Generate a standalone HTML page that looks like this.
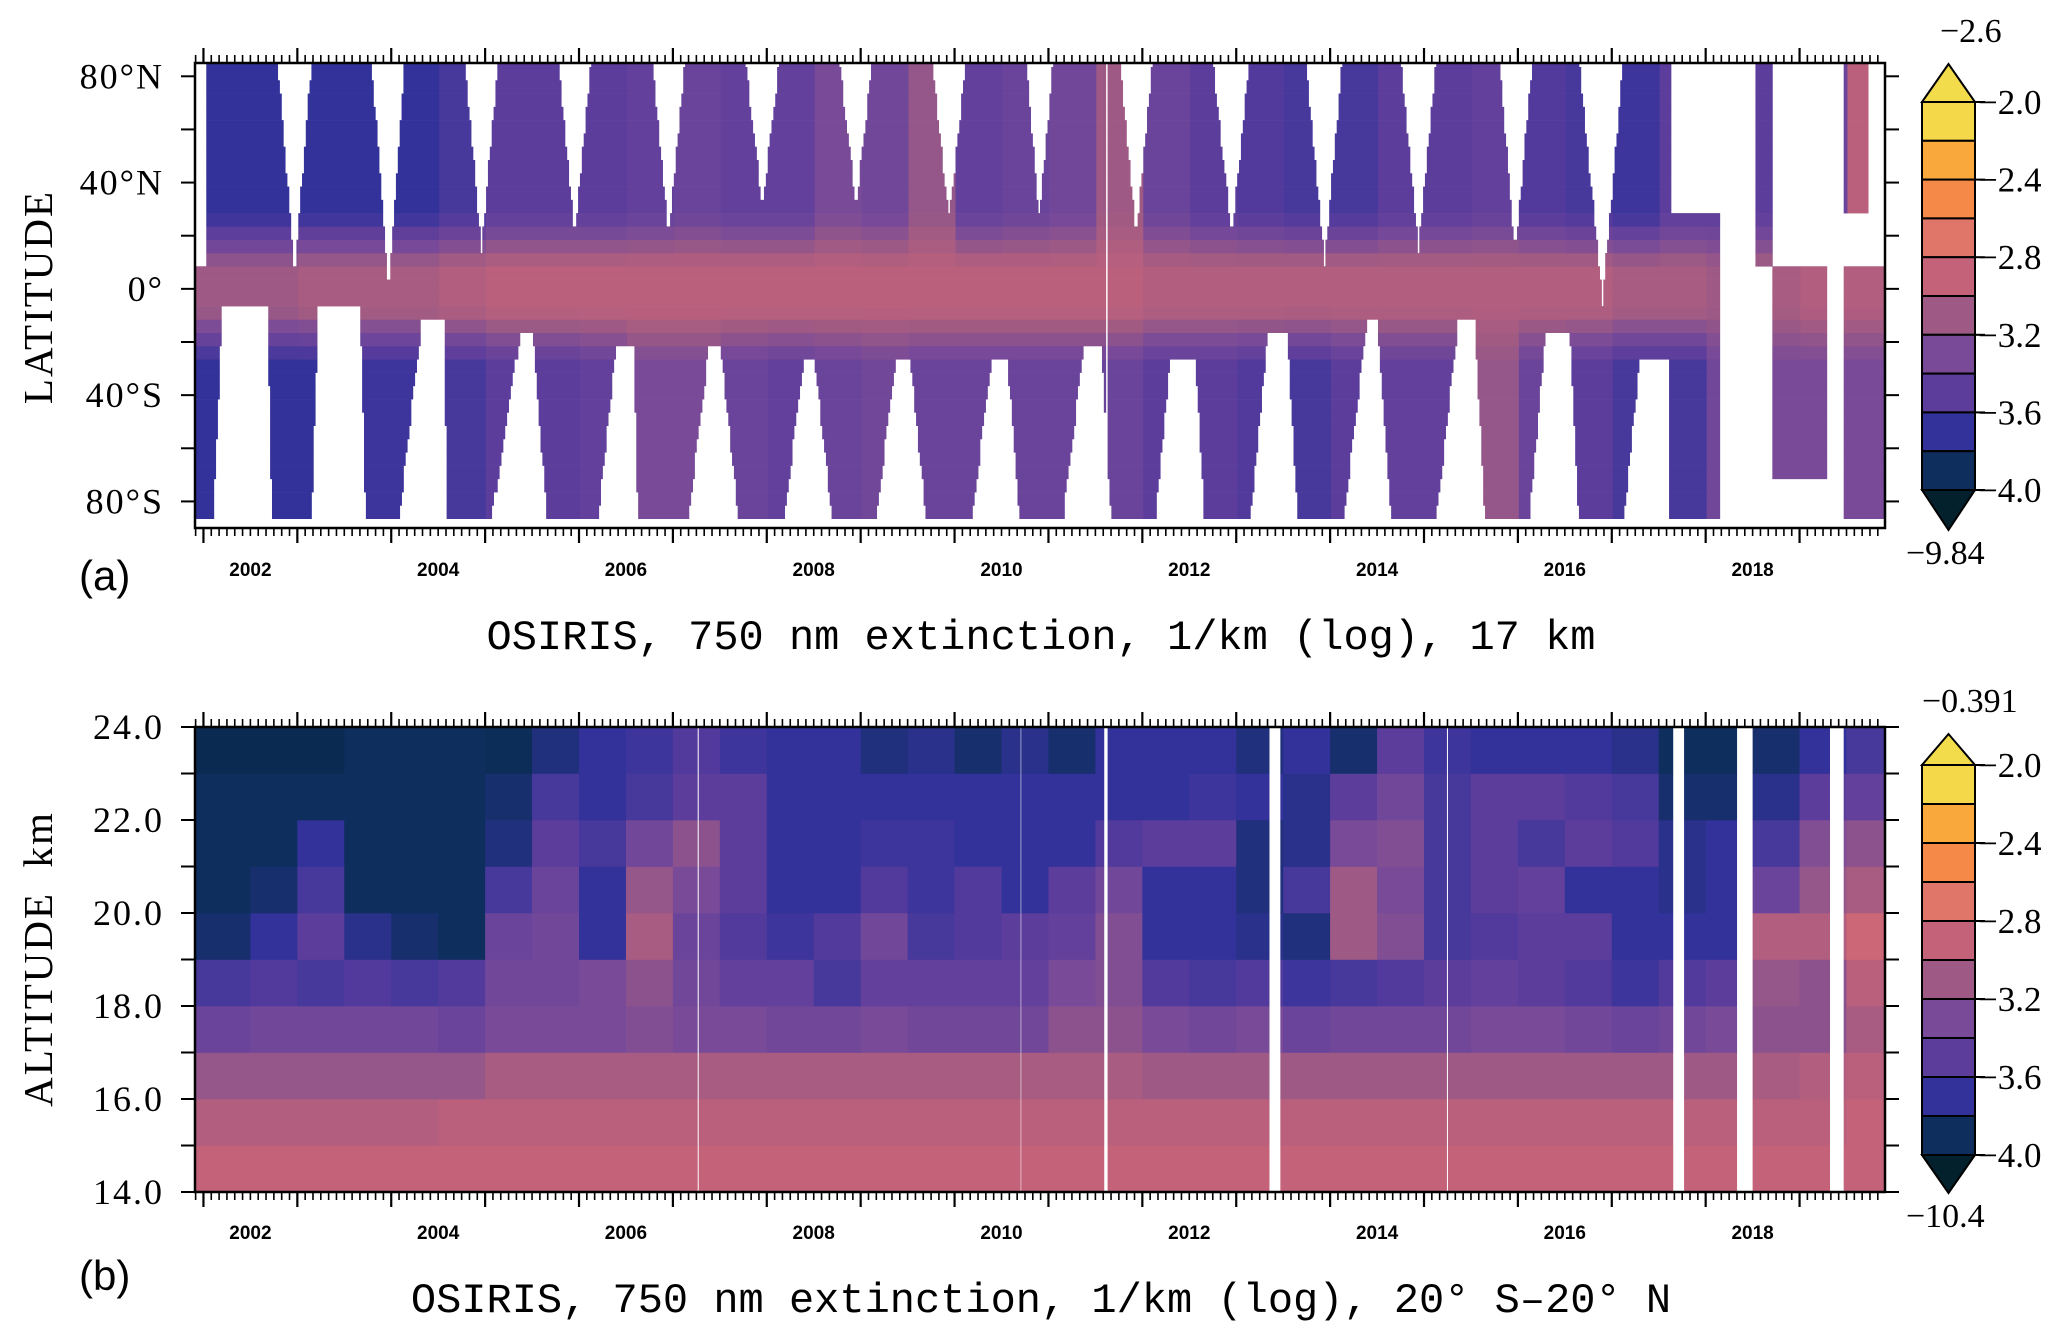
<!DOCTYPE html>
<html><head><meta charset="utf-8"><style>
html,body{margin:0;padding:0;background:#fff;}
svg{display:block;}
text{font-family:"Liberation Serif",serif;}
.mono{font-family:"Liberation Mono",monospace;}
.sans{font-family:"Liberation Sans",sans-serif;}
</style></head><body>
<svg id="fig" width="2067" height="1340" viewBox="0 0 2067 1340" xmlns="http://www.w3.org/2000/svg">
<rect x="0" y="0" width="2067" height="1340" fill="#fff"/>
<g id="pa"></g>
<g id="pb"></g>
<g id="axes"></g>
<text x="79" y="590" class="sans" font-size="42">(a)</text>
<text x="79" y="1290" class="sans" font-size="42">(b)</text>
<text x="1041" y="649" class="mono" font-size="42" text-anchor="middle">OSIRIS, 750 nm extinction, 1/km (log), 17 km</text>
<text x="1041" y="1312" class="mono" font-size="42" text-anchor="middle">OSIRIS, 750 nm extinction, 1/km (log), 20° S–20° N</text>
<text transform="translate(52,297) rotate(-90)" font-size="41" letter-spacing="2" text-anchor="middle">LATITUDE</text>
<text transform="translate(52,959) rotate(-90)" font-size="41" letter-spacing="2" text-anchor="middle">ALTITUDE&#160;&#160;km</text>
</svg>
<script>
// ---------- data ----------
const binStart = 2001.5;
const northLvl = [-3.7,-3.7,-3.7,-3.7,-3.7,-3.7,-3.6,-3.5,-3.5,-3.5,-3.45,-3.4,-3.45,-3.45,-3.3,-3.35,-3.15,-3.45,-3.4,-3.35,-3.1,-3.4,-3.5,-3.55,-3.6,-3.6,-3.5,-3.5,-3.45,-3.55,-3.6,-3.65,-3.5,-3.5,-3.5,-3.4,-2.95];
const tropLvl = [-3.1,-3.1,-3.1,-3.05,-3.05,-3.05,-3.0,-2.95,-2.95,-2.95,-2.95,-2.95,-2.95,-2.95,-2.95,-2.95,-2.95,-2.95,-2.95,-2.95,-2.95,-3.0,-3.0,-3.0,-3.0,-3.0,-3.0,-3.0,-3.0,-3.0,-3.0,-3.05,-3.05,-3.1,-3.05,-3.0,-3.0];
const southLvl = [-3.7,-3.7,-3.7,-3.7,-3.65,-3.65,-3.6,-3.5,-3.5,-3.45,-3.3,-3.3,-3.4,-3.45,-3.4,-3.35,-3.4,-3.4,-3.4,-3.4,-3.4,-3.5,-3.5,-3.55,-3.6,-3.5,-3.45,-3.45,-3.15,-3.4,-3.5,-3.6,-3.6,-3.35,-3.3,-3.3,-3.3];
const northGaps = [[2002.79,2003.15,2002.97,5],[2003.79,2004.14,2003.97,0],[2004.78,2005.14,2004.96,15],[2005.78,2006.13,2005.95,20],[2006.78,2007.13,2006.95,20],[2007.77,2008.13,2007.95,31],[2008.77,2009.12,2008.95,31],[2009.76,2010.12,2009.94,26],[2010.76,2011.05,2010.9,26],[2011.76,2012.11,2011.93,20],[2012.75,2013.14,2012.95,20],[2013.74,2014.13,2013.94,10],[2014.75,2015.13,2014.94,15],[2015.8,2016.15,2015.97,13],[2016.65,2017.12,2016.9,-5]];
const southGaps = [[2002.1,2002.73,2002.2,2002.68,-5],[2003.15,2003.73,2003.22,2003.67,-5],[2004.07,2004.6,2004.33,2004.56,-10],[2005.05,2005.67,2005.38,2005.5,-15],[2006.19,2006.63,2006.4,2006.58,-20],[2007.15,2007.71,2007.39,2007.5,-20],[2008.16,2008.71,2008.41,2008.5,-25],[2009.15,2009.71,2009.38,2009.52,-25],[2010.17,2010.7,2010.4,2010.56,-25],[2011.14,2011.67,2011.38,2011.56,-20],[2012.13,2012.67,2012.3,2012.56,-25],[2013.14,2013.66,2013.34,2013.54,-15],[2014.13,2014.66,2014.4,2014.5,-10],[2015.12,2015.65,2015.37,2015.54,-10],[2016.11,2016.65,2016.3,2016.55,-15],[2017.12,2017.61,2017.3,2017.61,-25]];
const rectGaps = [[2001.9,2002.04,10,90],[2017.62,2018.15,28,90],[2018.15,2018.52,-90,90],[2018.52,2018.7,-90,6],[2018.7,2019.28,8,90],[2018.7,2019.28,-90,-72],[2019.28,2019.47,-90,90],[2019.47,2019.72,10,26],[2019.72,2020.0,8,90],[2011.6,2011.62,-90,90]];
const altRows = [14,15,16,17,18,19,20,21,22,23];
const alt14 = [-2.9,-2.9,-2.9,-2.9,-2.9,-2.9,-2.9,-2.9,-2.9,-2.9,-2.9,-2.9,-2.9,-2.9,-2.9,-2.9,-2.9,-2.9,-2.9,-2.9,-2.9,-2.9,-2.9,-2.9,-2.9,-2.9,-2.9,-2.9,-2.9,-2.9,-2.9,-2.9,-2.9,-2.9,-2.9,-2.9,-2.9];
const alt15 = [-3.0,-3.0,-3.0,-3.0,-3.0,-3.0,-2.95,-2.95,-2.95,-2.95,-2.95,-2.95,-2.95,-2.95,-2.95,-2.95,-2.95,-2.95,-2.95,-2.95,-2.95,-2.95,-2.95,-2.95,-2.95,-2.95,-2.95,-2.95,-2.95,-2.95,-2.95,-2.95,-2.95,-2.95,-2.95,-2.95,-2.9];
const alt16 = [-3.15,-3.15,-3.15,-3.15,-3.15,-3.15,-3.15,-3.05,-3.05,-3.05,-3.05,-3.05,-3.05,-3.05,-3.05,-3.05,-3.05,-3.05,-3.05,-3.05,-3.05,-3.1,-3.1,-3.1,-3.1,-3.1,-3.1,-3.1,-3.1,-3.1,-3.1,-3.1,-3.1,-3.1,-3.05,-3.0,-2.95];
const alt17 = [-3.4,-3.4,-3.35,-3.35,-3.35,-3.35,-3.4,-3.3,-3.3,-3.3,-3.25,-3.3,-3.3,-3.35,-3.35,-3.3,-3.35,-3.35,-3.35,-3.2,-3.2,-3.3,-3.35,-3.3,-3.4,-3.35,-3.35,-3.35,-3.3,-3.3,-3.35,-3.4,-3.35,-3.3,-3.2,-3.2,-3.05];
const alt18 = [-3.6,-3.6,-3.55,-3.6,-3.55,-3.6,-3.55,-3.35,-3.35,-3.3,-3.2,-3.35,-3.45,-3.45,-3.6,-3.45,-3.45,-3.45,-3.45,-3.3,-3.25,-3.55,-3.6,-3.55,-3.65,-3.6,-3.55,-3.5,-3.45,-3.5,-3.55,-3.65,-3.55,-3.5,-3.15,-3.2,-2.95];
const alt19 = [-3.85,-3.85,-3.7,-3.5,-3.75,-3.85,-3.9,-3.4,-3.35,-3.7,-3.05,-3.4,-3.55,-3.65,-3.55,-3.35,-3.6,-3.55,-3.5,-3.45,-3.25,-3.7,-3.7,-3.75,-3.8,-3.1,-3.25,-3.6,-3.55,-3.5,-3.5,-3.7,-3.7,-3.7,-3.0,-3.0,-2.85];
const alt20 = [-3.9,-3.9,-3.85,-3.6,-3.9,-3.9,-3.9,-3.6,-3.4,-3.7,-3.15,-3.3,-3.5,-3.7,-3.7,-3.55,-3.65,-3.55,-3.7,-3.5,-3.35,-3.7,-3.7,-3.8,-3.6,-3.1,-3.3,-3.6,-3.5,-3.45,-3.7,-3.7,-3.75,-3.7,-3.4,-3.15,-3.05];
const alt21 = [-3.9,-3.9,-3.9,-3.7,-3.9,-3.9,-3.9,-3.8,-3.5,-3.6,-3.35,-3.2,-3.5,-3.7,-3.7,-3.65,-3.65,-3.7,-3.7,-3.7,-3.55,-3.5,-3.5,-3.8,-3.75,-3.3,-3.25,-3.6,-3.5,-3.6,-3.5,-3.55,-3.75,-3.7,-3.6,-3.25,-3.2];
const alt22 = [-3.9,-3.9,-3.9,-3.9,-3.9,-3.9,-3.9,-3.85,-3.6,-3.7,-3.6,-3.5,-3.5,-3.7,-3.7,-3.7,-3.7,-3.7,-3.7,-3.7,-3.7,-3.7,-3.65,-3.7,-3.75,-3.5,-3.35,-3.6,-3.5,-3.5,-3.55,-3.6,-3.85,-3.85,-3.75,-3.5,-3.45];
const alt23 = [-3.95,-3.95,-3.95,-3.95,-3.9,-3.9,-3.9,-3.92,-3.8,-3.7,-3.65,-3.55,-3.65,-3.7,-3.7,-3.8,-3.75,-3.85,-3.75,-3.85,-3.7,-3.7,-3.7,-3.8,-3.7,-3.85,-3.5,-3.65,-3.7,-3.7,-3.7,-3.75,-3.9,-3.9,-3.85,-3.7,-3.6];
const altSeries = [alt14,alt15,alt16,alt17,alt18,alt19,alt20,alt21,alt22,alt23];
const gapsB = [[2007.26,2007.275],[2010.7,2010.712],[2011.59,2011.63],[2013.35,2013.47],[2015.24,2015.255],[2017.65,2017.77],[2018.33,2018.5],[2019.32,2019.47]];
const latTicks = [80,60,40,20,0,-20,-40,-60,-80];
const latLabels = {"80":"80°N","40":"40°N","0":"0°","-40":"40°S","-80":"80°S"};
const altTickLabels = ["14.0","16.0","18.0","20.0","22.0","24.0"];
const yearLabels = [2002,2004,2006,2008,2010,2012,2014,2016,2018];
const cbLabels = ["−2.0","−2.4","−2.8","−3.2","−3.6","−4.0"];

// ---------- scales ----------
const X0=195, X1=1885, T0=2001.91, T1=2019.91;
function xs(t){return X0+(t-T0)/(T1-T0)*(X1-X0);}
const AY0=63, AY1=528, LATMAX=85, LATMIN=-90;
function ya(lat){return AY0+(LATMAX-lat)/(LATMAX-LATMIN)*(AY1-AY0);}
const BY0=727, BY1=1192;
function yb(km){return BY0+(24-km)/10*(BY1-BY0);}
const NS="http://www.w3.org/2000/svg";
function mk(tag,attrs,parent){const e=document.createElementNS(NS,tag);for(const k in attrs)e.setAttribute(k,attrs[k]);parent.appendChild(e);return e;}

const stops=[[-4.1,[3,32,45]],[-3.9,[14,46,94]],[-3.7,[50,50,154]],[-3.5,[92,61,156]],[-3.3,[120,74,152]],[-3.1,[158,90,132]],[-2.9,[196,98,122]],[-2.7,[224,117,106]],[-2.5,[245,138,72]],[-2.3,[249,169,60]],[-2.1,[245,216,74]]];
function col(v){
  if(v<=stops[0][0])return "rgb("+stops[0][1].join(",")+")";
  for(let i=1;i<stops.length;i++){if(v<=stops[i][0]){const a=stops[i-1],b=stops[i];const f=(v-a[0])/(b[0]-a[0]);return "rgb("+a[1].map((c,j)=>Math.round(c+(b[1][j]-c)*f)).join(",")+")";}}
  return "rgb("+stops[stops.length-1][1].join(",")+")";
}
function bin(arr,t){let i=Math.floor((t-binStart)/0.5);i=Math.max(0,Math.min(arr.length-1,i));return arr[i];}

// ---------- panel a ----------
function missingA(t,lat){
  for(const g of northGaps){const d=g[3];if(lat>=d){const f=(lat-d)/(LATMAX-d);const lo=g[2]+(g[0]-g[2])*f,hi=g[2]+(g[1]-g[2])*f;if(t>=lo&&t<=hi)return true;}}
  for(const g of southGaps){const d=g[4];if(lat<=d){const f=(d-lat)/(d+90);const lo=g[2]+(g[0]-g[2])*f,hi=g[3]+(g[1]-g[3])*f;if(t>=lo&&t<=hi)return true;}}
  for(const r of rectGaps){if(t>=r[0]&&t<r[1]&&lat>=r[2]&&lat<=r[3])return true;}
  return false;
}
function lvlA(t,lat){
  const hemi=lat>0?bin(northLvl,t):bin(southLvl,t);
  const w=Math.max(0,Math.min(1,(Math.abs(lat)-8)/20));
  return bin(tropLvl,t)*(1-w)+hemi*w;
}
const pa=document.getElementById('pa');
const DT=0.02;
for(let lb=-86.5; lb<LATMAX; lb+=5){
  const lt=Math.min(LATMAX,lb+5), lc=(lb+lt)/2;
  let runStart=null, runCol=null;
  const flush=(tEnd)=>{if(runStart!==null){const r=mk('rect',{x:xs(runStart).toFixed(2),y:ya(lt).toFixed(2),width:(xs(tEnd)-xs(runStart)+0.4).toFixed(2),height:(ya(lb)-ya(lt)+0.3).toFixed(2),fill:runCol},pa);
    
    }runStart=null;};
  for(let t=T0;t<T1-1e-9;t+=DT){
    const tc=t+DT/2;
    if(missingA(tc,lc)){flush(t);continue;}
    const c=col(lvlA(tc,lc));
    if(c!==runCol||runStart===null){flush(t);runStart=t;runCol=c;}
  }
  flush(T1);
}

// ---------- panel b ----------
const pb=document.getElementById('pb');
function missingB(t){for(const g of gapsB){if(t>=g[0]&&t<g[1])return true;}return false;}
altRows.forEach((km,ri)=>{
  const series=altSeries[ri];
  let runStart=null, runCol=null;
  const flush=(tEnd)=>{if(runStart!==null){const r=mk('rect',{x:xs(runStart).toFixed(2),y:yb(km+1).toFixed(2),width:(xs(tEnd)-xs(runStart)+0.4).toFixed(2),height:(yb(km)-yb(km+1)+0.3).toFixed(2),fill:runCol},pb);
    
    }runStart=null;};
  const dt=0.005;
  for(let t=T0;t<T1-1e-9;t+=dt){
    const tc=t+dt/2;
    if(missingB(tc)){flush(t);continue;}
    const c=col(bin(series,tc));
    if(c!==runCol||runStart===null){flush(t);runStart=t;runCol=c;}
  }
  flush(T1);
});

// ---------- axes ----------
const ax=document.getElementById('axes');
function timeAxis(top,bottom,labY,name){
  const fr=mk('rect',{x:X0,y:top,width:X1-X0,height:bottom-top,fill:'none',stroke:'#000','stroke-width':2.5},ax);
  
  
  for(let m=Math.ceil(T0*12);m/12<=T1;m++){
    const t=m/12, x=xs(t).toFixed(2), major=(m%12===0);
    const L=major?15:8;
    const a=mk('line',{x1:x,x2:x,y1:top,y2:top-L,stroke:'#000','stroke-width':major?2.2:1.6},ax);
    
    
    const b=mk('line',{x1:x,x2:x,y1:bottom,y2:bottom+L,stroke:'#000','stroke-width':major?2.2:1.6},ax);
    
    
  }
  yearLabels.forEach(y=>{
    const tx=mk('text',{x:xs(y+0.5).toFixed(1),y:labY,'text-anchor':'middle','font-size':19,'font-weight':'bold',class:'sans'},ax);
    tx.textContent=String(y);
    
    
  });
}
timeAxis(AY0,AY1,576,'panel-a');
timeAxis(BY0,BY1,1239,'panel-b');
latTicks.forEach(l=>{
  const y=ya(l).toFixed(2);
  const a=mk('line',{x1:181,x2:X0,y1:y,y2:y,stroke:'#000','stroke-width':2},ax);
  
  
  const b=mk('line',{x1:X1,x2:1899,y1:y,y2:y,stroke:'#000','stroke-width':2},ax);
  
  
  if(latLabels[String(l)]){
    const tx=mk('text',{x:164,y:(+y+12).toFixed(1),'text-anchor':'end','font-size':36,'letter-spacing':2},ax);
    tx.textContent=latLabels[String(l)];
    
    
  }
});
for(let km=14;km<=24;km++){
  const y=yb(km).toFixed(2);
  const a=mk('line',{x1:181,x2:X0,y1:y,y2:y,stroke:'#000','stroke-width':2},ax);
  
  
  const b=mk('line',{x1:X1,x2:1899,y1:y,y2:y,stroke:'#000','stroke-width':2},ax);
  
  
}
altTickLabels.forEach(s=>{
  const km=parseFloat(s);
  const tx=mk('text',{x:164,y:(yb(km)+12).toFixed(1),'text-anchor':'end','font-size':36,'letter-spacing':2},ax);
  tx.textContent=s;
  
  
});

// ---------- colorbars ----------
const binColors=["#f5d84a","#f9a93c","#f58a48","#e0756a","#c4627a","#9e5a84","#784a98","#5c3d9c","#32329a","#0e2e5e"];
function colorbar(tipT,boxT,boxB,tipB,topLab,topX,botLab,botX,name){
  const L=1922,R=1975,C=(L+R)/2,h=(boxB-boxT)/10;
  const g=mk('g',{},ax);
  
  
  const up=mk('polygon',{points:`${L},${boxT} ${C},${tipT} ${R},${boxT}`,fill:'#f3dc4c',stroke:'#000','stroke-width':2},g);
  
  
  binColors.forEach((c,i)=>{
    const r=mk('rect',{x:L,y:(boxT+i*h).toFixed(2),width:R-L,height:h.toFixed(2),fill:c,stroke:'#000','stroke-width':2},g);
    
    
  });
  const dn=mk('polygon',{points:`${L},${boxB} ${C},${tipB} ${R},${boxB}`,fill:'#03202d',stroke:'#000','stroke-width':2},g);
  
  
  cbLabels.forEach((s,i)=>{
    const y=boxT+i*2*h;
    const tk=mk('line',{x1:R,x2:R+10,y1:y,y2:y,stroke:'#000','stroke-width':2},g);
    
    
    const tx=mk('text',{x:R+3,y:(y+12).toFixed(1),'font-size':35},g);
    tx.textContent=s;
    
    
  });
  const t1=mk('text',{x:topX,y:tipT-22,'font-size':34},g);
  t1.textContent=topLab;
  
  
  const t2=mk('text',{x:botX,y:tipB+34,'font-size':34},g);
  t2.textContent=botLab;
  
  
}
colorbar(64,102,490,530,"−2.6",1940,"−9.84",1906,"panel-a-colorbar");
colorbar(734,765,1155,1193,"−0.391",1922,"−10.4",1906,"panel-b-colorbar");
</script>
</body></html>
